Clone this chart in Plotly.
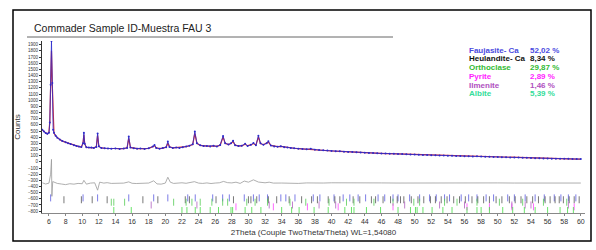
import plotly.graph_objects as go

# ---------------- data ----------------
obs_x = [5.2, 5.4, 5.6, 5.8, 6.0, 6.1, 6.2, 6.3, 6.4, 6.5, 6.6, 6.8, 7.0, 7.3, 7.6, 8.0, 8.3, 8.6, 9.0, 9.3,
         9.6, 9.9, 10.1, 10.2, 10.3, 10.5, 10.8, 11.1, 11.4, 11.7, 11.85, 12.0, 12.3, 12.7, 13.1, 13.5, 14.0,
         14.5, 15.0, 15.4, 15.6, 15.8, 16.2, 16.6, 17.0, 17.5, 18.0, 18.5, 18.7, 18.9, 19.3, 19.7, 20.1, 20.3,
         20.5, 20.9, 21.3, 21.7, 22.1, 22.5, 22.9, 23.3, 23.55, 23.8, 24.2, 24.6, 25.0, 25.4, 25.8, 26.2, 26.6,
         26.95, 27.2, 27.6, 27.9, 28.15, 28.4, 28.8, 29.2, 29.6, 29.9, 30.3, 30.6, 30.9, 31.2, 31.45, 31.8,
         32.2, 32.4, 32.7, 33.1, 33.5, 33.9, 34.3, 34.7, 35.1, 35.5, 36.0, 36.5, 37.0, 37.5, 38.0, 38.5, 39.0,
         39.5, 40.0, 40.5, 41.0, 41.5, 42.0, 42.5, 43.0, 43.5, 44.0, 44.5, 45.0, 45.5, 46.0, 46.5, 47.0, 47.5,
         48.0, 48.5, 49.0, 49.5, 50.0, 50.5, 51.0, 51.5, 52.0, 52.5, 53.0, 53.5, 54.0, 54.5, 55.0, 55.5, 56.0,
         56.5, 57.0, 57.5, 58.0, 58.5, 59.0, 59.5, 60.0, 60.5, 61.0, 61.5, 62.0, 62.5, 63.0, 63.5, 64.0, 64.5,
         65.0, 65.5, 66.0, 66.5, 67.0, 67.5, 68.0, 68.5, 69.0, 69.5, 70.0]
obs_y = [520, 490, 468, 455, 470, 640, 1250, 1960, 1280, 520, 470, 425, 392, 362, 338, 318, 302, 288, 270, 258,
         248, 240, 300, 470, 292, 236, 232, 234, 226, 242, 460, 252, 224, 222, 216, 214, 218,
         210, 216, 226, 410, 232, 220, 212, 216, 210, 220, 250, 272, 226, 214, 224, 236, 330,
         242, 224, 232, 226, 236, 248, 262, 286, 490, 302, 268, 256, 258, 248, 260, 250, 272,
         420, 302, 282, 300, 342, 268, 256, 262, 292, 258, 276, 306, 270, 422, 300, 276,
         302, 332, 264, 250, 246, 252, 238, 234, 226, 222, 214, 208, 204, 212, 196, 190, 186,
         182, 176, 172, 170, 164, 160, 158, 154, 150, 148, 144, 142, 140, 136, 136, 132, 130,
         126, 126, 122, 120, 118, 116, 112, 112, 108, 106, 104, 102, 100, 98, 96, 94, 92,
         92, 88, 90, 86, 82, 82, 80, 78, 76, 74, 72, 70, 70, 66, 66, 62, 60, 58, 56,
         56, 52, 52, 50, 48, 48, 46, 44, 44, 42, 42]
calc_y = [515, 488, 470, 452, 480, 660, 1220, 1800, 1250, 540, 468, 422, 390, 360, 336, 316, 300, 286, 268, 256,
          246, 240, 310, 440, 290, 234, 230, 230, 228, 246, 430, 250, 226, 220, 218, 214, 216,
          212, 214, 228, 380, 234, 218, 214, 214, 212, 218, 246, 262, 228, 216, 222, 238, 300,
          244, 226, 230, 228, 234, 246, 260, 282, 460, 300, 266, 258, 256, 250, 258, 252, 270,
          400, 300, 280, 298, 330, 270, 258, 260, 284, 262, 274, 296, 272, 400, 298, 278,
          300, 320, 266, 252, 246, 250, 240, 232, 228, 220, 214, 208, 206, 208, 198, 190, 186,
          180, 176, 172, 168, 164, 160, 156, 154, 150, 146, 144, 142, 138, 136, 134, 132, 130,
          128, 124, 122, 120, 118, 114, 112, 110, 108, 106, 104, 102, 100, 98, 96, 94, 92,
          90, 88, 88, 86, 84, 82, 80, 78, 76, 74, 72, 70, 68, 66, 64, 62, 60, 58, 56,
          54, 52, 52, 50, 48, 46, 46, 44, 44, 42, 40]

diff_x = [5.2, 5.6, 6.0, 6.2, 6.3, 6.35, 6.45, 7.0, 7.5, 8.0, 8.5, 9.0, 9.5, 10.0, 10.2, 10.5, 11.0, 11.5, 11.85,
          12.1, 12.6, 13.0, 13.5, 14.0, 14.5, 15.0, 15.6, 16.0, 16.5, 17.0, 17.5, 18.0, 18.6, 19.0, 19.5, 20.0,
          20.3, 20.6, 21.0, 21.5, 22.0, 22.5, 23.0, 23.5, 24.0, 24.5, 25.0, 25.5, 26.0, 26.5, 27.0, 27.5,
          28.0, 28.5, 29.0, 29.5, 30.0, 30.6, 31.2, 31.6, 32.0, 32.5, 33.0, 34.0, 35.0, 36.0, 37.0, 38.0,
          39.0, 40.0, 42.0, 44.0, 46.0, 48.0, 50.0, 52.0, 54.0, 56.0, 58.0, 60.0, 62.0, 64.0, 66.0, 68.0, 70.0]
diff_y = [-340, -360, -345, -200, 40, -560, -320, -350, -360, -370, -355, -362, -350, -355, -300, -362, -345, -340, -460,
          -330, -345, -338, -350, -346, -352, -345, -325, -348, -352, -346, -350, -344, -308, -358, -362, -345,
          -250, -330, -350, -344, -340, -348, -330, -322, -345, -350, -342, -352, -344, -340, -318, -338,
          -342, -330, -350, -312, -330, -292, -328, -336, -340, -330, -345, -344, -348, -350, -342, -346,
          -344, -340, -344, -346, -342, -344, -342, -344, -346, -342, -344, -342, -344, -346, -344, -342, -344]

# phase reflection positions (2Theta)
faujasite_pos = [6.2, 10.1, 11.85, 15.6, 18.6, 20.3, 22.7, 23.6, 25.7, 26.9, 27.7, 29.5, 30.6, 31.3, 32.3,
                 33.9, 34.5, 35.6, 37.8, 38.6, 40.3, 41.4, 42.2, 43.2, 44.1, 45.6, 46.4, 47.4, 48.0, 49.4,
                 50.6, 51.8, 52.6, 53.6, 54.2, 55.6, 56.5, 57.5, 58.6, 59.5, 61.2, 62.0, 63.3, 64.5, 65.6,
                 66.8, 67.6, 68.5, 69.4]
heulandite_pos = [7.8, 9.9, 11.2, 13.0, 17.3, 19.1, 22.4, 22.9, 26.1, 28.2, 30.0, 30.3, 31.0, 32.4, 33.4,
                  34.9, 36.4, 37.6, 38.3, 39.6, 40.4, 41.0, 42.6, 43.4, 44.8, 45.3, 46.2, 47.1, 47.9, 48.3,
                  48.7, 49.6, 50.4, 51.1, 51.9, 52.5, 53.2, 53.9, 54.7, 55.4, 56.1, 56.9, 57.6, 58.3, 59.0,
                  59.8, 60.5, 61.4, 62.1, 62.8, 63.5, 64.2, 64.9, 65.7, 66.3, 66.9, 67.4, 67.9, 68.6, 69.2, 69.8]
orthoclase_pos = [13.5, 13.8, 15.1, 21.0, 22.5, 23.2, 24.2, 25.6, 26.9, 27.5, 29.8, 30.8, 32.3, 35.0, 36.9,
                  39.7, 41.8, 42.7, 45.1, 47.4, 49.9, 50.6, 53.6, 55.1, 57.5, 60.2, 63.0, 65.5, 68.3]
pyrite_pos = [28.5, 33.0, 37.1, 40.8, 47.4, 56.3, 59.0, 61.7, 64.3, 69.2]
ilmenite_pos = [18.3, 23.8, 32.5, 35.3, 38.5, 40.5, 48.8, 53.0, 56.0, 61.7, 63.3, 64.0, 68.5]
albite_pos = [13.8, 15.9, 22.0, 22.6, 23.6, 24.2, 25.4, 26.4, 27.9, 28.1, 29.6, 30.4, 31.5, 34.0, 35.2,
              36.1, 37.9, 39.6, 41.6, 42.4, 42.7, 44.2, 45.9, 48.0, 49.5, 50.1, 50.3, 51.0, 52.1, 53.4,
              54.5, 56.3, 57.5, 58.0, 59.0, 60.6, 61.8, 63.2, 64.5, 66.0, 67.5, 68.4, 69.1]

phase_names = ["Faujasite- Ca", "Heulandite- Ca", "Orthoclase", "Pyrite", "Ilmenite", "Albite"]
phase_pct = ["52,02 %", "8,34 %", "29,87 %", "2,89 %", "1,46 %", "5,39 %"]
phase_colors = ["#4a4ae0", "#111111", "#33bb33", "#ff22ff", "#b050c0", "#33dd99"]
phase_tick_colors = ["#5a5ae0", "#555555", "#55cc55", "#ff44ff", "#b060c0", "#44dd44"]
phase_rows = [-585, -615, -655, -730, -700, -790]

x_tickvals = list(range(6, 71, 2))
x_ticktext = ["6", "8", "10", "12", "14", "16", "18", "20", "22", "24", "26", "28", "30", "32", "34", "36",
              "38", "40", "42", "44", "46", "48", "50", "52", "54", "56", "58", "50", "52", "54", "56", "58", "60"]
y_tickvals = list(range(-800, 2000, 100))

# ---------------- figure ----------------
W, H = 596, 250
L, R, T, B = 42, 11, 41, 37
PW, PH = W - L - R, H - T - B


def px(x):
    return (x - L) / PW


def py(y):
    return 1 - (y - T) / PH


fig = go.Figure()

fig.add_trace(go.Scatter(x=diff_x, y=diff_y, mode="lines",
                         line=dict(color="#9a9a9a", width=0.8), hoverinfo="skip"))

all_pos = [faujasite_pos, heulandite_pos, orthoclase_pos, pyrite_pos, ilmenite_pos, albite_pos]
for pos, col, row in zip(all_pos, phase_tick_colors, phase_rows):
    fig.add_trace(go.Scatter(x=pos, y=[row] * len(pos), mode="markers",
                             marker=dict(symbol="line-ns", size=5,
                                         line=dict(color=col, width=0.8)),
                             hoverinfo="skip"))

fig.add_trace(go.Scatter(x=obs_x, y=calc_y, mode="lines",
                         line=dict(color="#e03030", width=1.2)))
fig.add_trace(go.Scatter(x=obs_x, y=obs_y, mode="lines+markers",
                         line=dict(color="#2a2acc", width=0.8),
                         marker=dict(color="#2a2acc", size=2)))

shapes = [
    dict(type="rect", xref="paper", yref="paper", x0=px(13), x1=px(591), y0=py(10), y1=py(241),
         line=dict(color="black", width=1.5)),
    dict(type="line", xref="paper", yref="paper", x0=px(27), x1=px(393), y0=py(37), y1=py(37),
         line=dict(color="#666666", width=1)),
]

annotations = [
    dict(text="Commader Sample ID-Muestra FAU 3", xref="paper", yref="paper", x=px(32), y=py(28),
         xanchor="left", yanchor="middle", showarrow=False,
         font=dict(family="Liberation Sans, Arial", size=10.5, color="#222222")),
]
rows_y = [50, 59, 67, 76, 85, 93]
for name, pct, col, ry in zip(phase_names, phase_pct, phase_colors, rows_y):
    annotations.append(dict(text="<b>" + name + "</b>", xref="paper", yref="paper", x=px(467), y=py(ry),
                            xanchor="left", yanchor="middle", showarrow=False,
                            font=dict(family="Liberation Sans, Arial", size=8, color=col)))
    annotations.append(dict(text="<b>" + pct + "</b>", xref="paper", yref="paper", x=px(528), y=py(ry),
                            xanchor="left", yanchor="middle", showarrow=False,
                            font=dict(family="Liberation Sans, Arial", size=8, color=col)))

fig.update_layout(
    width=W, height=H, margin=dict(l=L, r=R, t=T, b=B),
    paper_bgcolor="white", plot_bgcolor="white", showlegend=False,
    shapes=shapes, annotations=annotations,
    font=dict(family="Liberation Sans, Arial", color="#333333"),
    xaxis=dict(range=[5.16, 70.5], tickvals=x_tickvals, ticktext=x_ticktext,
               tickfont=dict(size=7), ticks="outside", ticklen=2, tickcolor="#888888",
               showline=True, linecolor="#888888", linewidth=1, showgrid=False, zeroline=False,
               title=dict(text="2Theta (Couple TwoTheta/Theta) WL=1,54080", font=dict(size=8), standoff=4)),
    yaxis=dict(range=[-830, 1960], tickvals=y_tickvals, tickfont=dict(size=4.5),
               ticks="outside", ticklen=2, tickcolor="#333333",
               showline=True, linecolor="#333333", linewidth=1, showgrid=False, zeroline=False,
               title=dict(text="Counts", font=dict(size=8), standoff=6)),
)

fig.write_html("out.html", config={"displayModeBar": False},
               post_script="document.body.style.margin='0';document.body.style.overflow='hidden';")
